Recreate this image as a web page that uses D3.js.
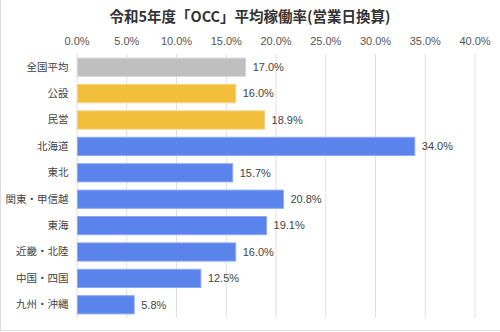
<!DOCTYPE html>
<html>
<head>
<meta charset="utf-8">
<script src="https://cdn.jsdelivr.net/npm/d3@7"></script>
<style>
  html, body { margin: 0; padding: 0; background: #fff; }
  svg { display: block; }
  text { font-family: "Liberation Sans", Arial, "Noto Sans CJK JP", sans-serif; }
</style>
</head>
<body>
<svg id="chart" width="500" height="332"></svg>
<script>
// 令和5年度 OCC 平均稼働率（営業日換算）
const categories = ["全国平均", "公設", "民営", "北海道", "東北", "関東・甲信越", "東海", "近畿・北陸", "中国・四国", "九州・沖縄"];
const values = [17.0, 16.0, 18.9, 34.0, 15.7, 20.8, 19.1, 16.0, 12.5, 5.8];
const groups = ["avg", "type", "type", "region", "region", "region", "region", "region", "region", "region"];
const tickValues = [0, 5, 10, 15, 20, 25, 30, 35, 40];
const title = "令和5年度「OCC」平均稼働率(営業日換算)";

const W = 500, H = 332;
const margin = { left: 76.5, right: 25.5, top: 54, bottom: 14 };

const fill = { avg: "#bfbfbf", type: "#f1bf3b", region: "#5a83ec" };
const edge = { avg: "#d6d6d6", type: "#f6d37a", region: "#8eabf2" };

const svg = d3.select("#chart");

// outer frame
svg.append("rect")
  .attr("x", 0.5).attr("y", -1).attr("width", W + 2).attr("height", H - 0.5)
  .attr("fill", "none").attr("stroke", "#dcdcdc");

const x = d3.scaleLinear().domain([0, 40]).range([margin.left, W - margin.right]);
const y = d3.scaleBand().domain(categories).range([margin.top, H - margin.bottom]).paddingInner(0.31).paddingOuter(0.155);

// title
svg.append("text")
  .attr("x", W / 2).attr("y", 21.5)
  .attr("text-anchor", "middle")
  .attr("fill", "#333")
  .style("font-family", "'Noto Sans CJK JP', sans-serif")
  .style("font-weight", "bold")
  .style("font-size", "14.5px")
  .text(title);

// vertical grid
const xAxis = d3.axisTop(x).tickValues(tickValues).tickFormat(d => d.toFixed(1) + "%")
  .tickSize(-(H - margin.bottom - margin.top)).tickPadding(8);
const gx = svg.append("g").attr("transform", `translate(0,${margin.top})`).call(xAxis);
gx.select(".domain").remove();
gx.selectAll(".tick line").attr("stroke", "#e0e0e0").attr("stroke-width", 1);
gx.selectAll(".tick text").attr("fill", "#555").style("font-size", "11px").attr("y", -9);

// category axis
const yAxis = d3.axisLeft(y).tickSize(0).tickPadding(8);
const gy = svg.append("g").attr("transform", `translate(${margin.left},0)`).call(yAxis);
gy.select(".domain").remove();
gy.selectAll(".tick text").attr("fill", "#444")
  .style("font-family", "'Noto Sans CJK JP', sans-serif")
  .style("font-size", "10.5px");

// bars
const rows = categories.map((c, i) => ({ c, v: values[i], g: groups[i] }));
svg.append("g").selectAll("rect").data(rows).join("rect")
  .attr("x", x(0) + 1)
  .attr("y", d => y(d.c))
  .attr("width", d => x(d.v) - x(0) - 1)
  .attr("height", y.bandwidth())
  .attr("fill", d => fill[d.g])
  .attr("stroke", d => edge[d.g])
  .attr("stroke-width", 1);

// value labels
svg.append("g").selectAll("text").data(rows).join("text")
  .attr("x", d => x(d.v) + 7)
  .attr("y", d => y(d.c) + y.bandwidth() / 2)
  .attr("dy", "0.35em")
  .attr("fill", "#444")
  .style("font-size", "11px")
  .text(d => d.v.toFixed(1) + "%");
</script>
</body>
</html>
